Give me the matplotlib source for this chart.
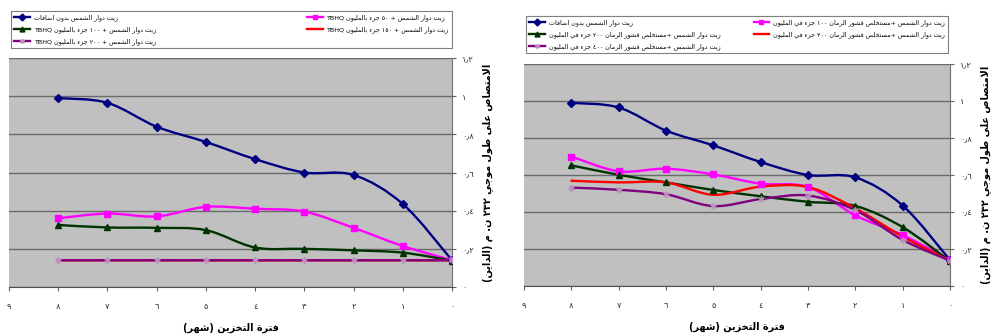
import re
import unicodedata
import matplotlib
matplotlib.use('Agg')
import matplotlib.pyplot as plt
from matplotlib.path import Path
from matplotlib.patches import PathPatch
from matplotlib.lines import Line2D

plt.rcParams['font.family'] = ['DejaVu Sans']

# ---- data ----
months = [8, 7, 6, 5, 4, 3, 2, 1, 0]

control = [0.99, 0.965, 0.84, 0.76, 0.67, 0.60, 0.587, 0.435, 0.14]

tbhq_50 = [0.36, 0.385, 0.37, 0.42, 0.41, 0.395, 0.31, 0.215, 0.14]
tbhq_100 = [0.325, 0.312, 0.31, 0.298, 0.207, 0.20, 0.192, 0.18, 0.138]
tbhq_150 = [0.14, 0.14, 0.14, 0.14, 0.14, 0.14, 0.14, 0.14, 0.14]
tbhq_200 = [0.14, 0.14, 0.14, 0.14, 0.14, 0.14, 0.14, 0.14, 0.14]

peel_100 = [0.70, 0.62, 0.634, 0.603, 0.553, 0.535, 0.382, 0.275, 0.141]
peel_200 = [0.652, 0.601, 0.56, 0.519, 0.485, 0.455, 0.433, 0.318, 0.134]
peel_300 = [0.569, 0.56, 0.56, 0.493, 0.537, 0.535, 0.42, 0.267, 0.137]
peel_400 = [0.532, 0.52, 0.496, 0.432, 0.47, 0.489, 0.41, 0.249, 0.137]

left_labels = [
    'زيت دوار الشمس بدون اضافات',
    'زيت دوار الشمس + ٥٠ جزء بالمليون TBHQ',
    'زيت دوار الشمس + ١٠٠ جزء بالمليون TBHQ',
    'زيت دوار الشمس + ١٥٠ جزء بالمليون TBHQ',
    'زيت دوار الشمس + ٢٠٠ جزء بالمليون TBHQ',
]
right_labels = [
    'زيت دوار الشمس بدون اضافات',
    'زيت دوار الشمس +مستخلص قشور الرمان ١٠٠ جزء في المليون',
    'زيت دوار الشمس +مستخلص قشور الرمان ٢٠٠ جزء في المليون',
    'زيت دوار الشمس +مستخلص قشور الرمان ٣٠٠ جزء في المليون',
    'زيت دوار الشمس +مستخلص قشور الرمان ٤٠٠ جزء في المليون',
]

x_ticks = [0, 1, 2, 3, 4, 5, 6, 7, 8, 9]
x_ticklabels = ['٠', '١', '٢', '٣', '٤', '٥', '٦', '٧', '٨', '٩']
y_ticks = [0, 0.2, 0.4, 0.6, 0.8, 1.0, 1.2]
y_ticklabels = ['٠', '٠٫٢', '٠٫٤', '٠٫٦', '٠٫٨', '١', '١٫٢']

x_title = 'فترة التخزين (شهر)'
y_title = 'الامتصاص على طول موجي ٢٣٢ ن. م (الداين)'

# series styles: colour, marker, marker edge
styles = [
    ('#000080', 'D', '#000080'),
    ('#ff00ff', 's', '#ff00ff'),
    ('#003300', '^', '#003300'),
    ('#ff0000', None, '#ff0000'),
    ('#800080', (6, 2, 0), '#b890b8'),
]


# ---- crude Arabic shaping + right-to-left ordering (no reshaper available) ----
def build_forms():
    forms = {}
    for cp in range(0xFE70, 0xFEFD):
        name = unicodedata.name(chr(cp), '')
        m = re.match(r'ARABIC LETTER (.+) (ISOLATED|FINAL|INITIAL|MEDIAL) FORM$', name)
        if not m:
            continue
        try:
            base = unicodedata.lookup('ARABIC LETTER ' + m.group(1))
        except KeyError:
            continue
        forms.setdefault(base, {})[m.group(2)] = chr(cp)
    forms['\ufefb'] = {'ISOLATED': '\ufefb', 'FINAL': '\ufefc'}  # lam-alef
    return forms


FORMS = build_forms()
MIRROR = str.maketrans('()', ')(')
LTR = r'A-Za-z0-9\u0660-\u0669\u066b'


def ar(text):
    chars = list(text.replace('\u0644\u0627', '\ufefb'))
    shaped = []
    for i, c in enumerate(chars):
        f = FORMS.get(c)
        if f is None:
            shaped.append(c)
            continue
        prev = FORMS.get(chars[i - 1]) if i > 0 else None
        nxt = FORMS.get(chars[i + 1]) if i + 1 < len(chars) else None
        jp = prev is not None and 'INITIAL' in prev and 'FINAL' in f
        jn = nxt is not None and 'INITIAL' in f and 'FINAL' in nxt
        if jp and jn:
            form = 'MEDIAL'
        elif jp:
            form = 'FINAL'
        elif jn:
            form = 'INITIAL'
        else:
            form = 'ISOLATED'
        shaped.append(f.get(form, c))
    s = ''.join(shaped)
    runs = re.findall(r'[%s]+|[^%s]+' % (LTR, LTR), s)
    out = []
    for r in reversed(runs):
        if re.match(r'[%s]' % LTR, r):
            out.append(r)
        else:
            out.append(r[::-1].translate(MIRROR))
    return ''.join(out)


# smoothed line like excel (bezier through the points)
def smooth_line(ax, xs, ys, color, lw):
    pts = list(zip(xs, ys))
    n = len(pts)
    verts = [pts[0]]
    codes = [Path.MOVETO]
    for i in range(n - 1):
        p0 = pts[max(i - 1, 0)]
        p1 = pts[i]
        p2 = pts[i + 1]
        p3 = pts[min(i + 2, n - 1)]
        c1 = (p1[0] + (p2[0] - p0[0]) / 6, p1[1] + (p2[1] - p0[1]) / 6)
        c2 = (p2[0] - (p3[0] - p1[0]) / 6, p2[1] - (p3[1] - p1[1]) / 6)
        verts += [c1, c2, p2]
        codes += [Path.CURVE4] * 3
    ax.add_patch(PathPatch(Path(verts, codes), fill=False, edgecolor=color,
                           lw=lw, capstyle='round', joinstyle='round', zorder=3))


def draw_panel(ax, series, labels, legend_box):
    ax.set_facecolor('#c0c0c0')
    ax.set_xlim(9, 0)
    ax.set_ylim(0, 1.2)
    ax.set_xticks(x_ticks)
    ax.set_xticklabels(x_ticklabels)
    ax.set_yticks(y_ticks)
    ax.set_yticklabels(y_ticklabels)
    ax.yaxis.tick_right()
    ax.yaxis.set_label_position('right')
    ax.spines['top'].set_visible(False)
    ax.spines['left'].set_visible(False)
    ax.spines['right'].set_color('#707070')
    ax.spines['bottom'].set_color('#505050')
    ax.grid(axis='y', color='#6a6a6a', lw=1.0)
    ax.set_axisbelow(True)
    ax.tick_params(axis='both', direction='out', length=3, labelsize=6,
                   color='#606060', labelcolor='#333333')
    ax.tick_params(axis='x', pad=8)
    ax.tick_params(axis='y', pad=4)

    handles = []
    for vals, (col, mk, mec) in zip(series, styles):
        smooth_line(ax, months, vals, col, 1.7)
        if mk is not None:
            ax.plot(months, vals, linestyle='none', marker=mk, markersize=4.5,
                    color=col, markeredgecolor=mec, markeredgewidth=1, zorder=4)
        handles.append(Line2D([], [], color=col, lw=1.7, marker=mk,
                              markersize=3.5, markeredgecolor=mec))

    ax.set_xlabel(ar(x_title), fontsize=7, fontweight='bold', labelpad=8)
    ax.set_ylabel(ar(y_title), fontsize=7, fontweight='bold', rotation=90, labelpad=6)

    order = [0, 2, 4, 1, 3]
    leg = ax.figure.legend([handles[i] for i in order],
                           [ar(labels[i]) for i in order],
                           loc='upper left', bbox_to_anchor=legend_box,
                           bbox_transform=ax.figure.transFigure, mode='expand',
                           ncol=2, fontsize=4.6, frameon=True, fancybox=False,
                           handlelength=2.4, labelspacing=0.8, borderpad=0.5,
                           handletextpad=0.6)
    leg.get_frame().set_edgecolor('#606060')
    leg.get_frame().set_linewidth(0.8)


W, H = 992, 336
fig = plt.figure(figsize=(W / 100, H / 100), dpi=100)

ax1 = fig.add_axes([9 / W, 1 - 287 / H, (452 - 9) / W, (287 - 58) / H])
ax2 = fig.add_axes([524 / W, 1 - 286 / H, (950 - 524) / W, (286 - 64) / H])

draw_panel(ax1, [control, tbhq_50, tbhq_100, tbhq_150, tbhq_200], left_labels,
           (8 / W, 1 - 52 / H, (455 - 8) / W, 44 / H))
draw_panel(ax2, [control, peel_100, peel_200, peel_300, peel_400], right_labels,
           (523 / W, 1 - 55 / H, (951 - 523) / W, 42 / H))

fig.savefig('out.png', dpi=100)
